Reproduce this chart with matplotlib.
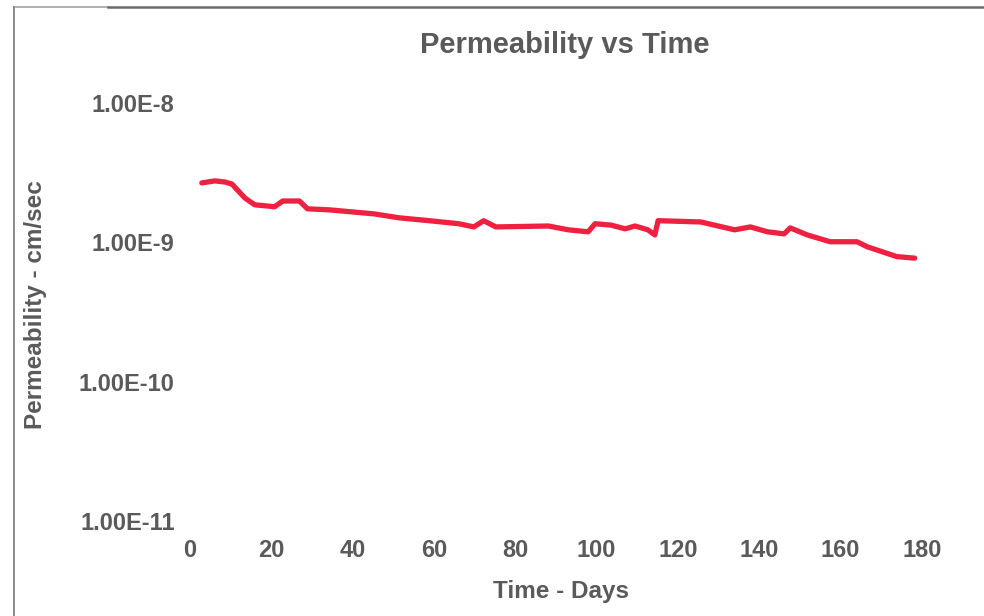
"""Permeability vs time, log-scale line chart."""

import math

import matplotlib

matplotlib.use("Agg")
import matplotlib.pyplot as plt
from matplotlib.lines import Line2D
from matplotlib.ticker import FixedLocator, FuncFormatter, NullLocator

# readings: time (days) and permeability (cm/sec)
days = [
    2.9, 6.1, 8.6, 10.3, 13.5, 15.9, 18.4, 20.8, 22.8, 26.9,
    28.9, 34.3, 39.2, 45.3, 51.4, 58.8, 66.1, 69.8, 72.2, 75.2,
    88.1, 93.0, 97.9, 99.6, 103.5, 107.0, 109.4, 112.6, 114.3, 115.1,
    125.6, 133.9, 137.8, 142.0, 146.1, 147.6, 151.8, 157.4, 164.0, 166.5,
    173.8, 178.2,
]
permeability = [
    2.67e-9, 2.76e-9, 2.71e-9, 2.62e-9, 2.08e-9, 1.86e-9, 1.83e-9, 1.80e-9, 1.98e-9, 1.98e-9,
    1.74e-9, 1.71e-9, 1.66e-9, 1.60e-9, 1.50e-9, 1.43e-9, 1.36e-9, 1.29e-9, 1.43e-9, 1.29e-9,
    1.31e-9, 1.23e-9, 1.19e-9, 1.36e-9, 1.33e-9, 1.25e-9, 1.31e-9, 1.23e-9, 1.13e-9, 1.43e-9,
    1.40e-9, 1.23e-9, 1.29e-9, 1.19e-9, 1.15e-9, 1.27e-9, 1.13e-9, 1.01e-9, 1.01e-9, 0.93e-9,
    0.79e-9, 0.77e-9,
]

x_ticks = [0, 20, 40, 60, 80, 100, 120, 140, 160, 180]
y_ticks = [1e-11, 1e-10, 1e-9, 1e-8]

TEXT_COLOR = "#5a5a5a"
LINE_COLOR = "#ef2040"
FONT = "Liberation Sans"


def excel_sci(value, _pos):
    """Format a tick value like Excel's 0.00E+0 style."""
    exponent = int(math.floor(math.log10(value) + 1e-9))
    mantissa = value / 10 ** exponent
    return f"{mantissa:.2f}E{exponent}"


plt.rcParams["font.family"] = [FONT, "DejaVu Sans"]

fig = plt.figure(figsize=(9.84, 6.16), dpi=100)
ax = fig.add_axes([0.1931, 0.1542, 0.7439, 0.6786])

ax.plot(days, permeability, color=LINE_COLOR, linewidth=3.8, solid_capstyle="round")

ax.set_yscale("log")
ax.set_xlim(0, 180)
ax.set_ylim(1e-11, 1e-8)
ax.xaxis.set_major_locator(FixedLocator(x_ticks))
ax.yaxis.set_major_locator(FixedLocator(y_ticks))
ax.yaxis.set_minor_locator(NullLocator())
ax.yaxis.set_major_formatter(FuncFormatter(excel_sci))

for side in ax.spines.values():
    side.set_visible(False)
ax.tick_params(axis="both", length=0, labelsize=17, labelcolor=TEXT_COLOR)
ax.tick_params(axis="x", pad=13)
ax.tick_params(axis="y", pad=11)
for label in ax.get_xticklabels() + ax.get_yticklabels():
    label.set_fontweight("bold")

fig.text(0.574, 0.927, "Permeability vs Time", ha="center", va="center",
         fontsize=21, fontweight="bold", color=TEXT_COLOR)
fig.text(0.036, 0.505, "Permeability - cm/sec", ha="center", va="center",
         rotation=90, fontsize=17.5, fontweight="bold", color=TEXT_COLOR)
fig.text(0.570, 0.039, "Time - Days", ha="center", va="center",
         fontsize=17.5, fontweight="bold", color=TEXT_COLOR)

# scanned chart border (top and left edges)
fig.add_artist(Line2D([0.0142, 0.11], [0.9886, 0.9886], color="#b0b0b0", linewidth=1.4))
fig.add_artist(Line2D([0.11, 1.0], [0.9886, 0.9886], color="#6a6a6a", linewidth=1.8))
fig.add_artist(Line2D([0.0142, 0.0142], [0.0, 0.9886], color="#8a8a8a", linewidth=1.4))

fig.savefig("out.png", dpi=100)
